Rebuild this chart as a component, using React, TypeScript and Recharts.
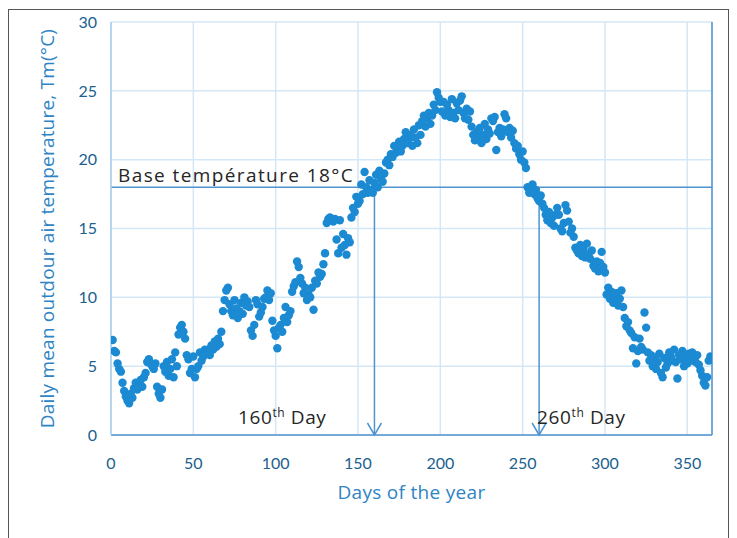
import { ScatterChart, Scatter, XAxis, YAxis, CartesianGrid, ReferenceLine } from 'recharts';

// daily mean outdoor air temperature (°C)
const jan = [6.9, 6.1, 6.0, 5.2, 4.8, 4.6, 3.8, 3.2, 2.8, 2.5, 2.3, 3.0, 2.7, 3.4, 3.8, 3.3, 3.6, 4.0, 3.5, 4.2, 4.5, 5.3, 5.5, 5.2, 5.0, 4.8, 5.2, 3.5, 3.0, 2.7, 3.3];
const feb = [5.0, 4.6, 5.3, 4.3, 4.8, 5.5, 4.2, 6.0, 5.0, 7.3, 7.8, 8.0, 7.5, 7.0, 5.8, 5.5, 4.5, 4.8, 5.7, 4.2, 4.8, 5.0, 6.0, 5.4, 5.7, 6.2, 5.9, 6.2];
const mar = [5.8, 6.5, 6.2, 6.8, 6.4, 7.0, 6.6, 7.5, 9.0, 9.8, 10.5, 10.7, 9.5, 9.0, 8.7, 9.8, 9.2, 8.5, 9.0, 9.6, 8.8, 10.0, 9.4, 9.7, 9.3, 7.6, 7.2, 8.0, 9.8, 9.5, 8.6];
const apr = [8.9, 9.3, 9.9, 10.0, 10.5, 9.8, 10.3, 8.3, 7.6, 7.2, 6.3, 7.8, 8.0, 7.5, 8.5, 9.3, 8.2, 8.7, 9.0, 10.4, 10.8, 11.1, 12.6, 12.2, 11.4, 11.0, 10.3, 10.7, 9.8, 10.2];
const may = [10.0, 10.7, 9.1, 11.2, 11.0, 11.8, 11.5, 11.7, 12.4, 13.2, 15.4, 15.7, 15.8, 15.6, 15.5, 15.7, 14.2, 13.2, 15.6, 13.6, 14.6, 13.8, 13.1, 14.3, 14.0, 15.8, 16.5, 16.2, 17.3, 16.8, 17.0];
const jun = [18.2, 17.5, 19.1, 18.0, 17.6, 18.5, 17.8, 17.6, 18.3, 18.9, 18.0, 19.2, 18.6, 18.4, 19.0, 19.8, 20.0, 19.6, 20.4, 20.2, 21.0, 20.5, 20.8, 21.3, 20.6, 21.0, 21.5, 22.0, 21.2, 21.5];
const jul = [21.8, 21.0, 22.2, 21.6, 21.2, 22.5, 21.8, 22.8, 23.2, 22.4, 23.0, 23.4, 22.6, 23.2, 24.0, 23.6, 24.9, 24.5, 24.2, 23.5, 24.2, 23.2, 24.0, 23.6, 23.1, 24.4, 23.4, 23.0, 24.1, 23.6, 24.3];
const aug = [24.6, 23.4, 23.0, 23.7, 22.9, 23.5, 22.4, 21.8, 21.4, 22.0, 21.6, 22.3, 21.2, 21.8, 22.6, 21.5, 22.2, 21.9, 23.0, 22.8, 23.1, 20.7, 22.0, 22.3, 21.7, 22.2, 23.3, 23.0, 22.0, 22.3, 21.6];
const sep = [22.1, 21.2, 20.8, 21.0, 20.4, 20.0, 20.6, 19.8, 19.4, 18.0, 17.6, 17.9, 18.2, 17.5, 17.8, 17.2, 17.0, 17.4, 16.8, 16.5, 16.0, 15.6, 16.2, 15.4, 15.8, 15.2, 16.0, 16.5, 16.0, 15.0];
const oct = [14.8, 15.4, 16.7, 16.3, 15.5, 14.7, 15.0, 14.4, 13.6, 13.4, 13.2, 13.8, 13.0, 13.5, 12.9, 13.9, 13.1, 12.8, 13.4, 12.3, 12.1, 12.6, 11.9, 12.5, 13.3, 12.2, 11.8, 10.2, 10.7, 9.9, 10.4];
const nov = [9.6, 10.0, 10.3, 9.4, 9.9, 10.5, 9.3, 8.5, 7.9, 8.2, 7.6, 7.4, 6.3, 7.1, 5.2, 6.1, 7.0, 6.4, 6.2, 8.9, 7.8, 6.0, 5.4, 5.8, 5.0, 5.6, 4.8, 5.3, 5.9, 4.5];
const dec = [4.2, 5.6, 4.9, 5.2, 6.0, 5.7, 5.4, 6.2, 5.3, 4.1, 5.8, 5.5, 6.1, 5.0, 5.6, 5.2, 5.9, 5.4, 6.0, 5.7, 5.3, 5.8, 5.1, 4.7, 4.3, 3.8, 3.6, 4.2, 5.4, 5.7, 5.5];

const dayTicks = [0, 50, 100, 150, 200, 250, 300, 350];
const tempTicks = [0, 5, 10, 15, 20, 25, 30];
const baseTemp = 18;
const markedDays = [160, 260];

const tempData = [jan, feb, mar, apr, may, jun, jul, aug, sep, oct, nov, dec]
  .flat()
  .map((t, i) => ({ day: i + 1, temp: t }));

const FONT = 'Lato, "Open Sans", sans-serif';
const TEXT_FONT = '"Open Sans", sans-serif';
const DOT = '#1b8ad2';
const LINE = '#4f93cf';
const GRID = '#d4e7f7';
const TICK = '#205f8e';
const TITLE = '#2e84c4';
const NOTE = '#262626';

const Dot = (p: any) => <circle cx={p.cx} cy={p.cy} r={4.2} fill={DOT} />;

const DayArrow = (which: number) => (p: any) => {
  const x = p.x1 ?? p.x;
  const yTop = Math.min(p.y1, p.y2);
  const yBot = Math.max(p.y1, p.y2);
  const day = markedDays[which];
  return (
    <g>
      <line x1={x} y1={yTop} x2={x} y2={yBot} stroke={LINE} strokeWidth={1.5} />
      <polyline points={`${x - 7},${yBot - 12} ${x},${yBot} ${x + 7},${yBot - 12}`} fill="none" stroke={LINE} strokeWidth={1.5} />
      <text
        x={which === 0 ? x - 48 : x - 2}
        y={yBot - 11}
        textAnchor={which === 0 ? 'end' : 'start'}
        fill={NOTE}
        fontSize={19}
        letterSpacing={0.6}
        fontFamily={TEXT_FONT}
      >
        {day}
        <tspan fontSize={12} dy={-7}>th</tspan>
        <tspan dy={7}> Day</tspan>
      </text>
    </g>
  );
};

export default function App() {
  return (
    <div style={{ position: 'absolute', left: 0, top: 0, width: 737, height: 538, background: '#fff', overflow: 'hidden' }}>
      <div style={{ position: 'absolute', left: 8, top: 9, width: 719, height: 540, border: '1px solid #555' }} />
      <div style={{ position: 'absolute', left: 0, top: 0 }}>
        <ScatterChart width={737} height={538} margin={{ top: 22, right: 25, bottom: 53, left: 81 }}>
          <CartesianGrid stroke={GRID} strokeWidth={1.5} />
          <XAxis
            type="number"
            dataKey="day"
            domain={[0, 365]}
            ticks={dayTicks}
            allowDataOverflow
            height={50}
            tickSize={0}
            tickMargin={23}
            tickLine={false}
            axisLine={{ stroke: LINE, strokeWidth: 1.5 }}
            tick={{ fill: TICK, fontSize: 16, fontFamily: FONT }}
            label={{
              content: (props: any) => {
                const vb = props.viewBox;
                return (
                  <text x={vb.x + vb.width / 2} y={vb.y + 64} textAnchor="middle" fill={TITLE} fontSize={19} letterSpacing={0.3} fontFamily={TEXT_FONT}>
                    Days of the year
                  </text>
                );
              },
            }}
          />
          <YAxis
            type="number"
            dataKey="temp"
            domain={[0, 30]}
            ticks={tempTicks}
            width={30}
            tickSize={0}
            tickMargin={14}
            tickLine={false}
            axisLine={{ stroke: '#a8cdec', strokeWidth: 1.5 }}
            tick={{ fill: TICK, fontSize: 16, fontFamily: FONT }}
            label={{
              content: (props: any) => {
                const vb = props.viewBox;
                const cx = vb.x - 34;
                const cy = vb.y + vb.height / 2;
                return (
                  <text x={cx} y={cy} transform={`rotate(-90 ${cx} ${cy})`} textAnchor="middle" dominantBaseline="central" fill={TITLE} fontSize={19} letterSpacing={0.2} fontFamily={TEXT_FONT}>
                    Daily mean outdour air temperature, Tm(°C)
                  </text>
                );
              },
            }}
          />
          <ReferenceLine x={365} stroke={LINE} strokeWidth={1.5} />
          <ReferenceLine
            y={baseTemp}
            stroke={LINE}
            strokeWidth={1.5}
            label={{
              content: (props: any) => {
                const vb = props.viewBox;
                return (
                  <text x={vb.x + 7} y={vb.y - 5} fill={NOTE} fontSize={19} letterSpacing={1.4} fontFamily={TEXT_FONT}>
                    Base température 18°C
                  </text>
                );
              },
            }}
          />
          {markedDays.map((d, i) => (
            <ReferenceLine
              key={d}
              segment={[{ x: d, y: baseTemp }, { x: d, y: 0 }]}
              stroke={LINE}
              shape={DayArrow(i)}
            />
          ))}
          <Scatter data={tempData} fill={DOT} shape={Dot} isAnimationActive={false} />
        </ScatterChart>
      </div>
    </div>
  );
}
